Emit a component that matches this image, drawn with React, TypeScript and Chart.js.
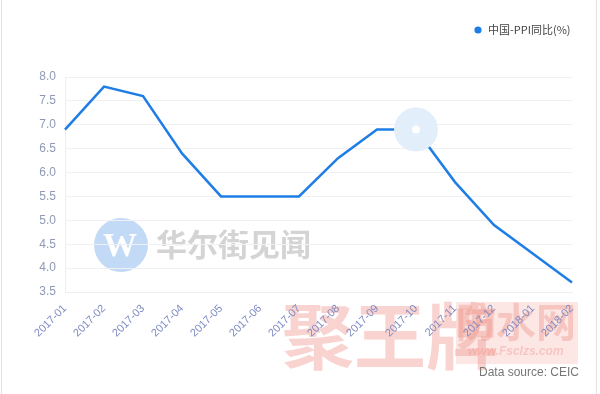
import React, { useEffect, useRef } from "react";
import { Chart, registerables } from "chart.js";

Chart.register(...registerables);

const categories = [
  "2017-01", "2017-02", "2017-03", "2017-04", "2017-05", "2017-06", "2017-07",
  "2017-08", "2017-09", "2017-10", "2017-11", "2017-12", "2018-01", "2018-02",
];
const ppiYoY = [6.9, 7.8, 7.6, 6.4, 5.5, 5.5, 5.5, 6.3, 6.9, 6.9, 5.8, 4.9, 4.3, 3.7];
const seriesName = "中国-PPI同比(%)";
const highlightIndex = 9;
const yMin = 3.5;
const yMax = 8.0;
const yStep = 0.5;
const sourceText = "Data source: CEIC";

const FONT = "'Liberation Sans', Arial, sans-serif";
const LINE = "#1f7de6";

const decorPlugin = {
  id: "decor",
  beforeDraw(chart: any) {
    const ctx = chart.ctx;
    const W = chart.width;
    const H = chart.height;
    ctx.save();
    ctx.fillStyle = "#ffffff";
    ctx.fillRect(0, 0, W, H);
    // frame lines
    ctx.strokeStyle = "#e2e2e2";
    ctx.lineWidth = 1;
    ctx.beginPath();
    ctx.moveTo(1.5, 0);
    ctx.lineTo(1.5, H);
    ctx.moveTo(W - 3.5, 0);
    ctx.lineTo(W - 3.5, H);
    ctx.stroke();

    // wallstreetcn watermark
    ctx.fillStyle = "#c3daf6";
    ctx.beginPath();
    ctx.arc(121, 245, 27, 0, Math.PI * 2);
    ctx.fill();
    ctx.fillStyle = "#ffffff";
    ctx.font = "bold 34px 'Liberation Serif', serif";
    ctx.textAlign = "center";
    ctx.textBaseline = "middle";
    ctx.fillText("W", 120, 247);
    ctx.fillStyle = "#d4d4d4";
    ctx.font = "bold 31px 'Noto Sans CJK SC', sans-serif";
    ctx.textAlign = "left";
    ctx.fillText("华尔街见闻", 156, 244);

    // red watermark
    ctx.fillStyle = "rgba(245,170,160,0.28)";
    ctx.fillRect(456, 302, 122, 62);
    ctx.fillStyle = "rgba(240,150,140,0.42)";
    ctx.font = "bold 72px 'Noto Sans CJK SC', sans-serif";
    ctx.textAlign = "left";
    ctx.textBaseline = "middle";
    ctx.fillText("聚王牌", 282, 336);
    ctx.font = "bold 40px 'Noto Sans CJK SC', sans-serif";
    ctx.fillText("防水网", 456, 322);
    ctx.font = "italic bold 12px 'Liberation Sans', sans-serif";
    ctx.fillText("www.Fsclzs.com", 468, 352);
    ctx.restore();
  },
  afterDraw(chart: any) {
    const ctx = chart.ctx;
    ctx.save();
    // legend
    ctx.fillStyle = LINE;
    ctx.beginPath();
    ctx.arc(478, 30, 3.6, 0, Math.PI * 2);
    ctx.fill();
    ctx.fillStyle = "#444444";
    ctx.font = "11px 'Noto Sans CJK SC', sans-serif";
    ctx.textAlign = "left";
    ctx.textBaseline = "middle";
    ctx.fillText(seriesName, 488, 30);
    // source
    ctx.fillStyle = "#777777";
    ctx.font = "12px " + FONT;
    ctx.textAlign = "right";
    ctx.textBaseline = "middle";
    ctx.fillText(sourceText, 579, 373);
    ctx.restore();
  },
};

export default function App() {
  const ref = useRef<HTMLCanvasElement>(null);
  useEffect(() => {
    document.body.style.margin = "0";
    const pr = ppiYoY.map((_, i) => (i === highlightIndex ? 13 : 0));
    const chart = new Chart(ref.current as HTMLCanvasElement, {
      type: "line",
      data: {
        labels: categories,
        datasets: [
          {
            label: seriesName,
            data: ppiYoY,
            borderColor: LINE,
            borderWidth: 2.5,
            tension: 0,
            fill: false,
            pointRadius: pr,
            pointBackgroundColor: "#ffffff",
            pointBorderColor: "#e3eefb",
            pointBorderWidth: 18,
          },
        ],
      },
      options: {
        animation: false,
        responsive: false,
        maintainAspectRatio: false,
        layout: { padding: { top: 77, right: 28, left: 0, bottom: 0 } },
        plugins: { legend: { display: false }, tooltip: { enabled: false } },
        scales: {
          x: {
            offset: false,
            grid: { display: false, drawTicks: false },
            border: { display: true, color: "#eceef2" },
            ticks: {
              color: "#7f8bc4",
              font: { family: FONT, size: 11 },
              minRotation: 45,
              maxRotation: 45,
              autoSkip: false,
              padding: 10,
            },
            afterFit(scale: any) {
              scale.height = 102;
            },
          },
          y: {
            min: yMin,
            max: yMax,
            grid: { color: "#eef0f4", drawTicks: false },
            border: { display: true, color: "#eceef2" },
            ticks: {
              stepSize: yStep,
              color: "#8e9ab5",
              font: { family: FONT, size: 12 },
              padding: 9,
              callback: (v: any) => Number(v).toFixed(1),
            },
            afterFit(scale: any) {
              scale.width = 65;
            },
          },
        },
      },
      plugins: [decorPlugin],
    });
    return () => chart.destroy();
  }, []);
  return (
    <div style={{ width: 600, height: 394 }}>
      <canvas ref={ref} width={600} height={394} style={{ display: "block" }} />
    </div>
  );
}
